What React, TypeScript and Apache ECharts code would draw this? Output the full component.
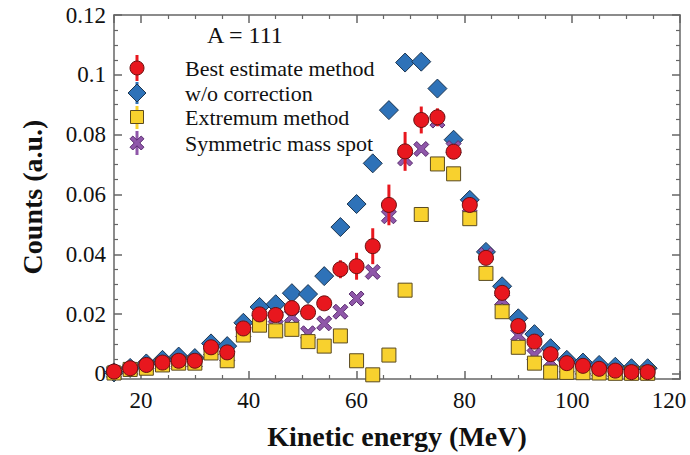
import React, { useEffect, useRef } from "react";
import * as echarts from "echarts";

// Kinetic energy (MeV) of each bin
const energies = [15, 18, 21, 24, 27, 30, 33, 36, 39, 42, 45, 48, 51, 54, 57, 60, 63, 66, 69, 72, 75, 78, 81, 84, 87, 90, 93, 96, 99, 102, 105, 108, 111, 114];

// Best estimate method
const bestEstimate = [0.0008, 0.0019, 0.003, 0.0038, 0.0044, 0.0044, 0.0089, 0.0072, 0.0152, 0.0199, 0.0197, 0.022, 0.0206, 0.0236, 0.035, 0.036, 0.0427, 0.0565, 0.0744, 0.0849, 0.0858, 0.0743, 0.0565, 0.0388, 0.0271, 0.016, 0.0108, 0.0066, 0.0036, 0.0027, 0.0017, 0.0011, 0.0006, 0.0006];
const bestEstimateErr = [0.001, 0.001, 0.001, 0.001, 0.001, 0.001, 0.001, 0.001, 0.001, 0.001, 0.001, 0.001, 0.001, 0.001, 0.003, 0.0045, 0.006, 0.0068, 0.0065, 0.0045, 0.003, 0.001, 0.001, 0.001, 0.001, 0.001, 0.001, 0.001, 0.001, 0.001, 0.001, 0.001, 0.001, 0.001];

// w/o correction
const withoutCorrection = [0.0005, 0.002, 0.0035, 0.0047, 0.0058, 0.0053, 0.0102, 0.0093, 0.0171, 0.0224, 0.0233, 0.027, 0.0267, 0.0327, 0.0491, 0.0568, 0.0704, 0.0882, 0.1041, 0.1044, 0.0954, 0.0783, 0.0582, 0.0408, 0.0293, 0.0186, 0.0133, 0.0086, 0.0047, 0.0038, 0.003, 0.0024, 0.0019, 0.0019];

// Extremum method
const extremum = [0.0003, 0.0015, 0.0019, 0.003, 0.0036, 0.0036, 0.007, 0.0044, 0.013, 0.0163, 0.0144, 0.0149, 0.0108, 0.0093, 0.0127, 0.0044, -0.0003, 0.0063, 0.028, 0.0533, 0.0702, 0.0669, 0.0519, 0.0336, 0.0208, 0.0089, 0.0036, 0.0006, 0.0005, 0.0004, 0.0003, 0.0002, 0.0002, 0.0002];

// Symmetric mass spot
const symmetric = [0.0005, 0.0015, 0.0025, 0.0033, 0.004, 0.004, 0.008, 0.006, 0.014, 0.018, 0.019, 0.0193, 0.0136, 0.0169, 0.0208, 0.0252, 0.0341, 0.0527, 0.072, 0.0752, 0.0847, 0.0755, 0.056, 0.0398, 0.0247, 0.013, 0.0063, 0.0041, 0.0022, 0.0015, 0.001, 0.0007, 0.0004, 0.0004];

const seriesNames = ["Best estimate method", "w/o correction", "Extremum method", "Symmetric mass spot"];
const annotation = "A = 111";
const xTitle = "Kinetic energy (MeV)";
const yTitle = "Counts (a.u.)";

const FONT = "'Liberation Serif', 'Times New Roman', serif";
const RED = "#e8171e";
const BLUE = "#2e72b8";
const YELLOW = "#f8d12e";
const PURPLE = "#8f57a9";
const AXIS = "#666666";

const X_PATH = "path://M2,0 L5,3 L8,0 L10,2 L7,5 L10,8 L8,10 L5,7 L2,10 L0,8 L3,5 L0,2 Z";

function xPoints(cx: number, cy: number, s: number) {
  const raw = [[2, 0], [5, 3], [8, 0], [10, 2], [7, 5], [10, 8], [8, 10], [5, 7], [2, 10], [0, 8], [3, 5], [0, 2]];
  return raw.map(([a, b]) => [cx + ((a - 5) * s) / 10, cy + ((b - 5) * s) / 10]);
}

export default function App() {
  const ref = useRef<HTMLDivElement>(null);

  useEffect(() => {
    if (!ref.current) return;
    const chart = echarts.init(ref.current, undefined, { renderer: "svg" });

    const pair = (vals: number[]) => energies.map((e, i) => [e, vals[i]]);

    const axisLineStyle = { color: AXIS, width: 1.5 };
    const baseX = {
      type: "value" as const,
      min: 15,
      max: 120,
      splitNumber: 5,
      splitLine: { show: false },
      axisLine: { show: true, onZero: false, lineStyle: axisLineStyle },
      axisTick: { show: true, inside: true, length: 8, lineStyle: axisLineStyle },
      minorTick: { show: true, splitNumber: 4, length: 4, lineStyle: { color: AXIS, width: 1.2 } },
    };
    const baseY = {
      type: "value" as const,
      min: -0.0017,
      max: 0.12,
      splitNumber: 6,
      splitLine: { show: false },
      axisLine: { show: true, onZero: false, lineStyle: axisLineStyle },
      axisTick: { show: true, inside: true, length: 8, lineStyle: axisLineStyle },
      minorTick: { show: true, splitNumber: 4, length: 4, lineStyle: { color: AXIS, width: 1.2 } },
    };

    const legendY = [68, 93, 117, 143];
    const legendX = 137;
    const legendGraphics: any[] = [
      { type: "line", shape: { x1: legendX, y1: 55, x2: legendX, y2: 81 }, style: { stroke: RED, lineWidth: 3 } },
      { type: "circle", shape: { cx: legendX, cy: legendY[0], r: 7 }, style: { fill: RED, stroke: "#6b1010", lineWidth: 1 } },
      { type: "line", shape: { x1: legendX, y1: 82, x2: legendX, y2: 104 }, style: { stroke: BLUE, lineWidth: 3 } },
      {
        type: "polygon",
        shape: { points: [[legendX, legendY[1] - 9], [legendX + 9, legendY[1]], [legendX, legendY[1] + 9], [legendX - 9, legendY[1]]] },
        style: { fill: BLUE, stroke: "#1c3550", lineWidth: 1 },
      },
      { type: "line", shape: { x1: legendX, y1: 106, x2: legendX, y2: 129 }, style: { stroke: YELLOW, lineWidth: 3 } },
      { type: "rect", shape: { x: legendX - 6.5, y: legendY[2] - 6.5, width: 13, height: 13 }, style: { fill: YELLOW, stroke: "#5a4a20", lineWidth: 1 } },
      { type: "line", shape: { x1: legendX, y1: 131, x2: legendX, y2: 155 }, style: { stroke: PURPLE, lineWidth: 3 } },
      { type: "polygon", shape: { points: xPoints(legendX, legendY[3], 14) }, style: { fill: PURPLE, stroke: "#5a2d70", lineWidth: 1 } },
      ...seriesNames.map((n, i) => ({
        type: "text",
        x: 185,
        y: legendY[i],
        style: { text: n, fill: "#111", font: `22px ${FONT}`, textVerticalAlign: "middle", textAlign: "left" },
      })),
      {
        type: "text",
        x: 207,
        y: 35,
        style: { text: annotation, fill: "#111", font: `24px ${FONT}`, textVerticalAlign: "middle", textAlign: "left" },
      },
    ];

    chart.setOption({
      animation: false,
      backgroundColor: "#ffffff",
      grid: { left: 114, right: 10, top: 15, bottom: 76, containLabel: false },
      xAxis: [
        {
          ...baseX,
          position: "bottom",
          name: xTitle,
          nameLocation: "middle",
          nameGap: 43,
          nameTextStyle: { fontSize: 28, fontWeight: "bold", fontFamily: FONT, color: "#111" },
          axisLabel: {
            margin: 10,
            fontSize: 23,
            fontFamily: FONT,
            color: "#111",
            formatter: (v: number) => (v < 20 ? "" : v === 120 ? "{r|120}" : String(v)),
            rich: { r: { fontSize: 23, fontFamily: FONT, color: "#111", padding: [0, 22, 0, 0] } },
          },
        },
        { ...baseX, position: "top", axisLabel: { show: false } },
      ],
      yAxis: [
        {
          ...baseY,
          position: "left",
          name: yTitle,
          nameLocation: "middle",
          nameGap: 68,
          nameTextStyle: { fontSize: 28, fontWeight: "bold", fontFamily: FONT, color: "#111" },
          axisLabel: {
            margin: 8,
            fontSize: 23,
            fontFamily: FONT,
            color: "#111",
            formatter: (v: number) => (v < -1e-9 ? "" : String(v)),
          },
        },
        { ...baseY, position: "right", axisLabel: { show: false } },
      ],
      graphic: legendGraphics,
      series: [
        {
          name: seriesNames[1],
          type: "scatter",
          data: pair(withoutCorrection),
          symbol: "diamond",
          symbolSize: 19,
          itemStyle: { color: BLUE, borderColor: "#1c3550", borderWidth: 1, opacity: 1 },
          z: 2,
        },
        {
          name: seriesNames[3],
          type: "scatter",
          data: pair(symmetric),
          symbol: X_PATH,
          symbolSize: 15,
          itemStyle: { color: PURPLE, borderColor: "#5a2d70", borderWidth: 1, opacity: 1 },
          z: 3,
        },
        {
          name: seriesNames[2],
          type: "scatter",
          data: pair(extremum),
          symbol: "rect",
          symbolSize: 14,
          itemStyle: { color: YELLOW, borderColor: "#5a4a20", borderWidth: 1, opacity: 1 },
          z: 4,
        },
        {
          name: seriesNames[0] + " error",
          type: "custom",
          data: energies.map((e, i) => [e, bestEstimate[i], bestEstimateErr[i]]),
          encode: { x: 0, y: 1 },
          renderItem: (_params: any, api: any) => {
            const x = api.value(0);
            const y = api.value(1);
            const err = api.value(2);
            const top = api.coord([x, y + err]);
            const bot = api.coord([x, y - err]);
            return {
              type: "line",
              shape: { x1: top[0], y1: top[1], x2: bot[0], y2: bot[1] },
              style: { stroke: RED, lineWidth: 3 },
            };
          },
          z: 5,
        },
        {
          name: seriesNames[0],
          type: "scatter",
          data: pair(bestEstimate),
          symbol: "circle",
          symbolSize: 15,
          itemStyle: { color: RED, borderColor: "#6b1010", borderWidth: 1, opacity: 1 },
          z: 6,
        },
      ],
    });

    return () => {
      chart.dispose();
    };
  }, []);

  return (
    <div
      ref={ref}
      style={{ position: "fixed", left: 0, top: 0, width: 690, height: 455, background: "#fff" }}
    />
  );
}
